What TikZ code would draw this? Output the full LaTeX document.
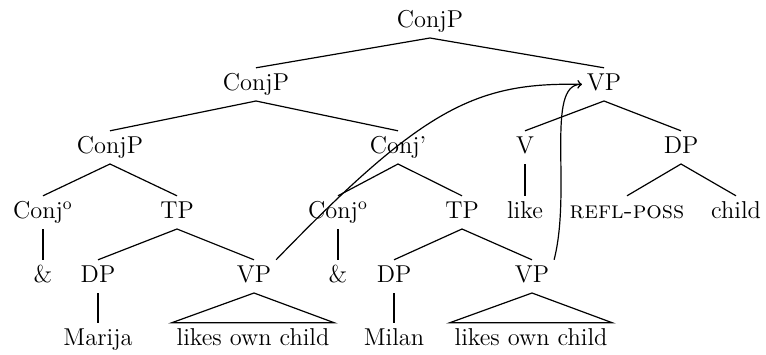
\documentclass[tikz,border=0pt]{standalone}
\usepackage{tikz}
\begin{document}
\begin{tikzpicture}[x=0.5pt,y=-0.5pt,
  lbl/.style={anchor=base,inner sep=2.5pt,outer sep=0pt,text height=8.6pt,text depth=3pt,
              font=\fontsize{12.2}{14}\selectfont},
  branch/.style={line width=0.6pt},
  move/.style={line width=0.6pt,->}]
\useasboundingbox (0,0) rectangle (766,354);
% labels, row by row
\node[lbl] (root)   at (430,27)  {ConjP};
\node[lbl] (cp2)    at (256,90)  {ConjP};
\node[lbl] (vp)     at (604,90)  {VP};
\node[lbl] (cp3)    at (110,153) {ConjP};
\node[lbl] (cbar)   at (398,153) {Conj'};
\node[lbl] (v)      at (525,153) {V};
\node[lbl] (dp)     at (681,153) {DP};
\node[lbl] (c1)     at (43,218)  {Conj\textsuperscript{o}};
\node[lbl] (tp1)    at (177,218) {TP};
\node[lbl] (c2)     at (338,218) {Conj\textsuperscript{o}};
\node[lbl] (tp2)    at (462,218) {TP};
\node[lbl] (like)   at (525,218) {like};
\node[lbl] (refl)   at (627,218) {\textsc{refl-poss}};
\node[lbl] (child)  at (736,218) {child};
\node[lbl] (amp1)   at (43,282)  {\&};
\node[lbl] (dp1)    at (98,282)  {DP};
\node[lbl] (vp1)    at (254,282) {VP};
\node[lbl] (amp2)   at (338,282) {\&};
\node[lbl] (dp2)    at (394,282) {DP};
\node[lbl] (vp2)    at (532,282) {VP};
\node[lbl] (marija) at (98,345)  {Marija};
\node[lbl] (loc1)   at (253,345) {likes own child};
\node[lbl] (milan)  at (394,345) {Milan};
\node[lbl] (loc2)   at (531,345) {likes own child};
% branches
\draw[branch] (cp2.north) -- (root.south) -- (vp.north);
\draw[branch] (cp3.north) -- (cp2.south) -- (cbar.north);
\draw[branch] (c1.north) -- (cp3.south) -- (tp1.north);
\draw[branch] (c1.south) -- (amp1.north);
\draw[branch] (dp1.north) -- (tp1.south) -- (vp1.north);
\draw[branch] (dp1.south) -- (marija.north);
\draw[branch] (loc1.north west) -- (vp1.south) -- (loc1.north east) -- cycle;
\draw[branch] (c2.north) -- (cbar.south) -- (tp2.north);
\draw[branch] (c2.south) -- (amp2.north);
\draw[branch] (dp2.north) -- (tp2.south) -- (vp2.north);
\draw[branch] (dp2.south) -- (milan.north);
\draw[branch] (loc2.north west) -- (vp2.south) -- (loc2.north east) -- cycle;
\draw[branch] (v.north) -- (vp.south) -- (dp.north);
\draw[branch] (v.south) -- (like.north);
\draw[branch] (refl.north) -- (dp.south) -- (child.north);
% movement arrows into the shared VP
\draw[move] (vp1.north east) .. controls (422,109) and (475,82) .. (vp.west);
\draw[move] (vp2.north east) .. controls (572,190) and (545,84) .. (vp.west);
\end{tikzpicture}
\end{document}
